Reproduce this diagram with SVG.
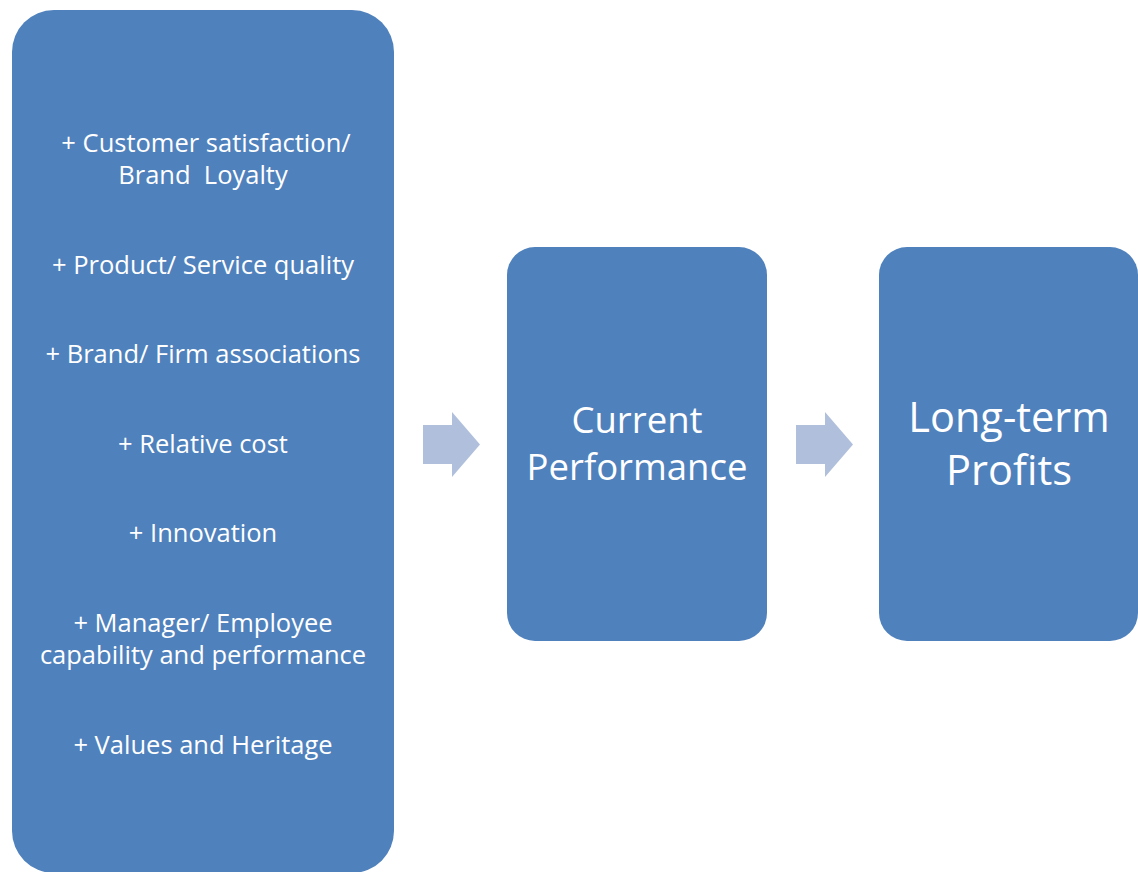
<svg xmlns="http://www.w3.org/2000/svg" width="1138" height="872" viewBox="0 0 1138 872">
<style>
.box{fill:#4F81BD}
.arr{fill:#B0C0DC}
text{fill:#fff;font-family:"Open Sans","Liberation Sans",sans-serif;text-anchor:middle}
.s{font-size:25.5px}
.m{font-size:36.5px}
.l{font-size:41.5px}
</style>
<rect width="1138" height="872" fill="#fff"/>
<g id="drivers">
<rect class="box" x="12" y="10" width="382" height="863" rx="42" ry="42"/>
<text class="s" x="206" y="152">+ Customer satisfaction/</text>
<text class="s" x="203" y="184" xml:space="preserve">Brand  Loyalty</text>
<text class="s" x="203" y="274">+ Product/ Service quality</text>
<text class="s" x="203" y="363">+ Brand/ Firm associations</text>
<text class="s" x="203" y="453">+ Relative cost</text>
<text class="s" x="203" y="542">+ Innovation</text>
<text class="s" x="203" y="632">+ Manager/ Employee</text>
<text class="s" x="203" y="664">capability and performance</text>
<text class="s" x="203" y="754">+ Values and Heritage</text>
</g>
<g id="connectors">
<polygon class="arr" points="423,425 452,425 452,412 480,444.5 452,477 452,464 423,464"/>
<polygon class="arr" points="796,425 825,425 825,412 853,444.5 825,477 825,464 796,464"/>
</g>
<g id="current">
<rect class="box" x="507" y="247" width="260" height="394" rx="28" ry="28"/>
<text class="m" x="637" y="433">Current</text>
<text class="m" x="637" y="480">Performance</text>
</g>
<g id="longterm">
<rect class="box" x="879" y="247" width="259" height="394" rx="28" ry="28"/>
<text class="l" x="1009" y="432">Long-term</text>
<text class="l" x="1009" y="485">Profits</text>
</g>
</svg>
